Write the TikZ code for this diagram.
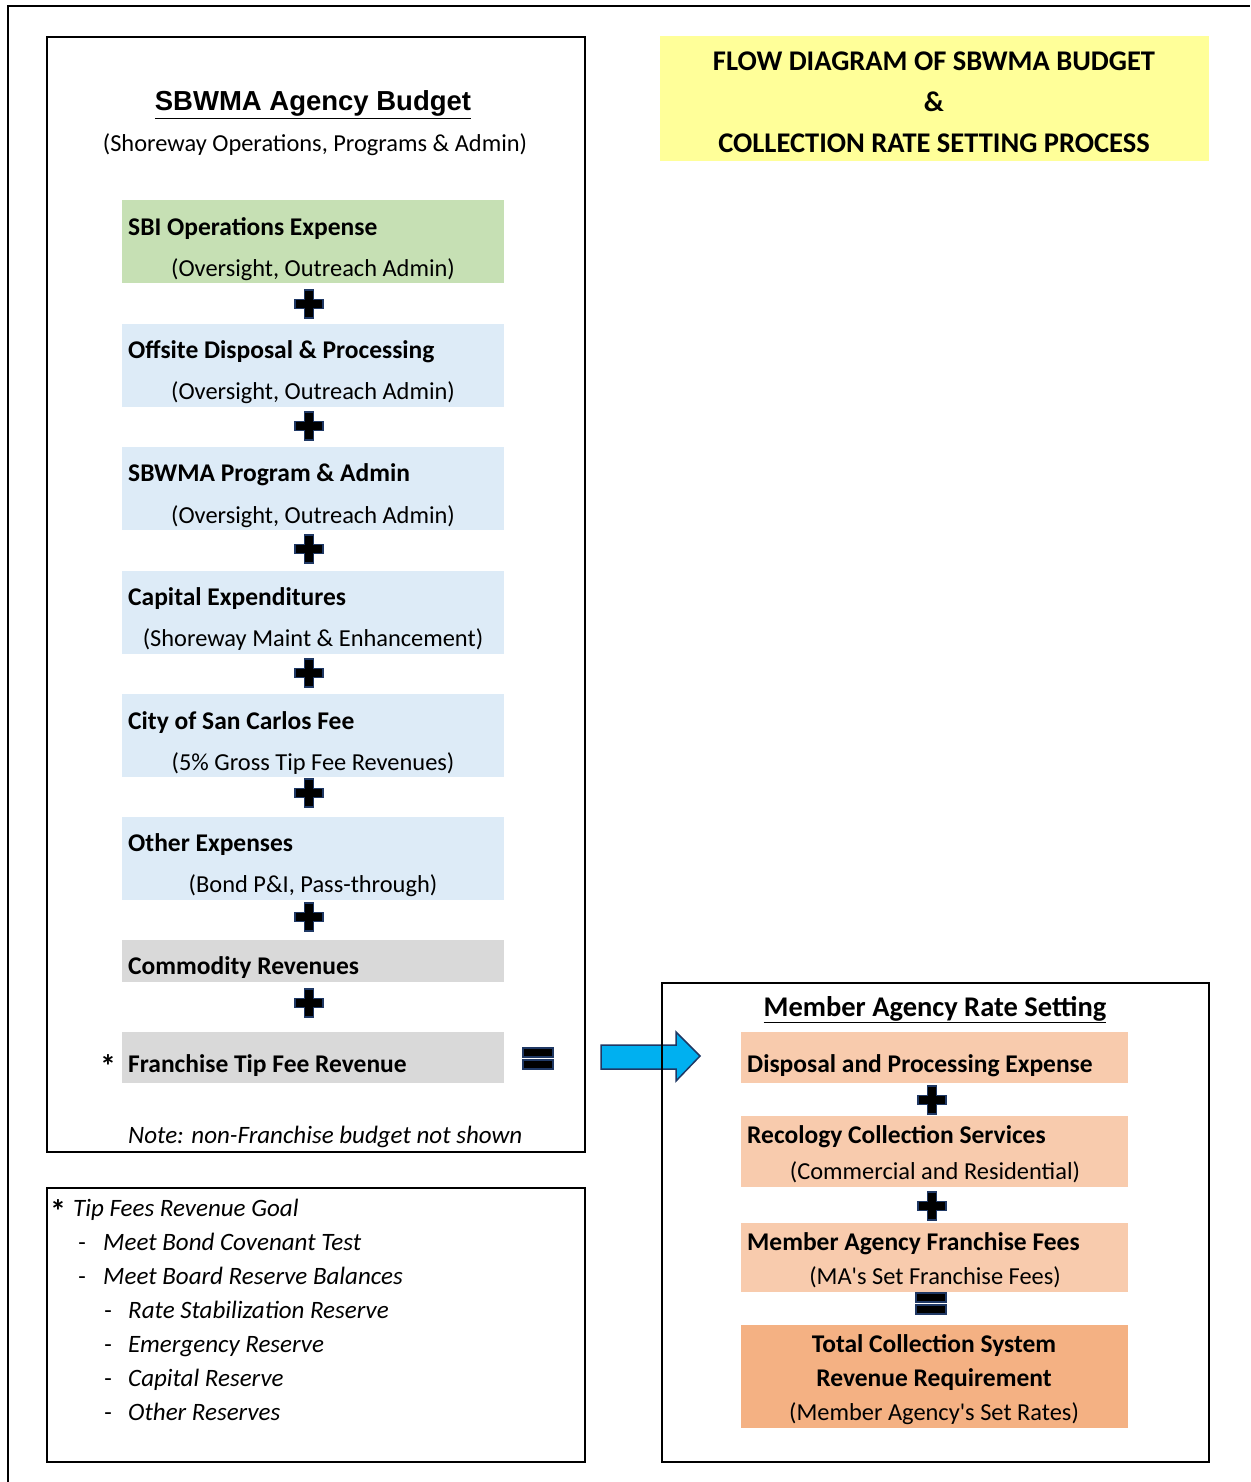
\documentclass[tikz,border=0pt]{standalone}
\usepackage{fontspec}
\setmainfont{Carlito}[Ligatures=TeXReset]
\newfontfamily\arialfont{Liberation Sans}
\definecolor{greenbox}{HTML}{C6E0B4}
\definecolor{bluebox}{HTML}{DDEBF7}
\definecolor{graybox}{HTML}{D9D9D9}
\definecolor{peach}{HTML}{F8CBAD}
\definecolor{peachdark}{HTML}{F4B183}
\definecolor{yellowbox}{HTML}{FFFF99}
\definecolor{navy}{HTML}{1F3864}
\definecolor{arrowblue}{HTML}{00B0F0}
\begin{document}
\begin{tikzpicture}[x=1pt,y=-1pt,
  frame/.style={draw=black, line width=2pt},
  txt/.style={inner sep=0pt, font=\fontsize{24.4}{28}\selectfont},
  btxt/.style={inner sep=0pt, font=\fontsize{25.5}{29}\selectfont\bfseries},
  bigbtxt/.style={inner sep=0pt, font=\fontsize{28.5}{32}\selectfont\bfseries},
  itxt/.style={inner sep=0pt, font=\fontsize{25}{29}\selectfont\itshape},
  startxt/.style={inner sep=0pt, font=\fontsize{32}{36}\selectfont\bfseries},
  box/.style={draw=none, inner sep=0pt, anchor=north west},
  plussign/.pic={\filldraw[fill=black, draw=navy, line width=1.5pt]
     (-4.5,-14) -- (4.5,-14) -- (4.5,-4.5) -- (14,-4.5) -- (14,4.5) -- (4.5,4.5)
     -- (4.5,14) -- (-4.5,14) -- (-4.5,4.5) -- (-14,4.5) -- (-14,-4.5) -- (-4.5,-4.5) -- cycle;},
  equalsign/.pic={\filldraw[fill=black, draw=navy, line width=1.5pt] (-15,-11) rectangle (15,-2);
     \filldraw[fill=black, draw=navy, line width=1.5pt] (-15,1) rectangle (15,10);}
]
\useasboundingbox (0,0) rectangle (1250,1482);
% outer frame
\draw[frame] (8,1482) -- (8,6) -- (1250,6);
% left budget frame
\node[box, frame, minimum width=538, minimum height=1115] (leftframe) at (46,36) {};
\node[anchor=base, inner sep=0pt, font=\arialfont\bfseries\fontsize{27.5}{32}\selectfont] (ltitle) at (313,111) {\underline{SBWMA Agency Budget}};
\node[txt, anchor=base] (lsub) at (315,152) {(Shoreway Operations, Programs \& Admin)};

% budget boxes
\node[box, fill=greenbox, minimum width=382, minimum height=83] (b1) at (122,200) {};
\node[box, fill=bluebox, minimum width=382, minimum height=83] (b2) at (122,324) {};
\node[box, fill=bluebox, minimum width=382, minimum height=83] (b3) at (122,447) {};
\node[box, fill=bluebox, minimum width=382, minimum height=83] (b4) at (122,571) {};
\node[box, fill=bluebox, minimum width=382, minimum height=83] (b5) at (122,694) {};
\node[box, fill=bluebox, minimum width=382, minimum height=83] (b6) at (122,817) {};
\node[box, fill=graybox, minimum width=382, minimum height=42] (b7) at (122,940) {};
\node[box, fill=graybox, minimum width=382, minimum height=51] (b8) at (122,1032) {};

\node[btxt, anchor=base west] (t1) at (128,235) {SBI Operations Expense};
\node[txt, anchor=base] (s1) at (313,276) {(Oversight, Outreach Admin)};
\node[btxt, anchor=base west] (t2) at (128,358) {Offsite Disposal \& Processing};
\node[txt, anchor=base] (s2) at (313,399) {(Oversight, Outreach Admin)};
\node[btxt, anchor=base west] (t3) at (128,481) {SBWMA Program \& Admin};
\node[txt, anchor=base] (s3) at (313,523) {(Oversight, Outreach Admin)};
\node[btxt, anchor=base west] (t4) at (128,605) {Capital Expenditures};
\node[txt, anchor=base] (s4) at (313,646) {(Shoreway Maint \& Enhancement)};
\node[btxt, anchor=base west] (t5) at (128,729) {City of San Carlos Fee};
\node[txt, anchor=base] (s5) at (313,770) {(5\% Gross Tip Fee Revenues)};
\node[btxt, anchor=base west] (t6) at (128,851) {Other Expenses};
\node[txt, anchor=base] (s6) at (313,892) {(Bond P\&I, Pass-through)};
\node[btxt, anchor=base west] (t7) at (128,974) {Commodity Revenues};
\node[btxt, anchor=base west] (t8) at (128,1072) {Franchise Tip Fee Revenue};
\node[startxt, anchor=base] (star1) at (108,1077) {*};

\pic at (309,304) {plussign};
\pic at (309,426) {plussign};
\pic at (309,549) {plussign};
\pic at (309,673) {plussign};
\pic at (309,793) {plussign};
\pic at (309,917) {plussign};
\pic at (309,1003) {plussign};
\pic at (538,1059) {equalsign};

\node[itxt, anchor=base west] (note) at (128,1143) {Note: non-Franchise budget not shown};

% big arrow
\filldraw[fill=arrowblue, draw=navy, line width=1.5pt]
  (601,1045) -- (676,1045) -- (676,1032) -- (700,1056) -- (676,1081) -- (676,1069) -- (601,1069) -- cycle;

% notes box
\node[box, frame, minimum width=538, minimum height=274] (notes) at (46,1187) {};
\node[startxt, anchor=base] (star2) at (58,1222) {*};
\node[itxt, anchor=base west] (n0) at (73,1216) {Tip Fees Revenue Goal};
\node[txt, anchor=base] (d1) at (82,1250) {-};
\node[itxt, anchor=base west] (n1) at (103,1250) {Meet Bond Covenant Test};
\node[txt, anchor=base] (d2) at (82,1284) {-};
\node[itxt, anchor=base west] (n2) at (103,1284) {Meet Board Reserve Balances};
\node[txt, anchor=base] (d3) at (108,1318) {-};
\node[itxt, anchor=base west] (n3) at (128,1318) {Rate Stabilization Reserve};
\node[txt, anchor=base] (d4) at (108,1352) {-};
\node[itxt, anchor=base west] (n4) at (128,1352) {Emergency Reserve};
\node[txt, anchor=base] (d5) at (108,1386) {-};
\node[itxt, anchor=base west] (n5) at (128,1386) {Capital Reserve};
\node[txt, anchor=base] (d6) at (108,1420) {-};
\node[itxt, anchor=base west] (n6) at (128,1420) {Other Reserves};

% yellow title
\node[box, fill=yellowbox, minimum width=549, minimum height=125] (ybox) at (660,36) {};
\node[bigbtxt, anchor=base] (y1) at (934,71) {FLOW DIAGRAM OF SBWMA BUDGET};
\node[bigbtxt, anchor=base] (y2) at (934,112) {\&};
\node[bigbtxt, anchor=base] (y3) at (934,153) {COLLECTION RATE SETTING PROCESS};

% right frame
\node[box, frame, minimum width=547, minimum height=479] (rightframe) at (661,982) {};
\node[bigbtxt, anchor=base] (rtitle) at (935,1016) {\underline{Member Agency Rate Setting}};
\node[box, fill=peach, minimum width=387, minimum height=51] (r1) at (741,1032) {};
\node[box, fill=peach, minimum width=387, minimum height=71] (r2) at (741,1116) {};
\node[box, fill=peach, minimum width=387, minimum height=69] (r3) at (741,1223) {};
\node[box, fill=peachdark, minimum width=387, minimum height=103] (r4) at (741,1325) {};
\node[btxt, anchor=base west] (rt1) at (747,1072) {Disposal and Processing Expense};
\node[btxt, anchor=base west] (rt2) at (747,1143) {Recology Collection Services};
\node[txt, anchor=base] (rs2) at (935,1179) {(Commercial and Residential)};
\node[btxt, anchor=base west] (rt3) at (747,1250) {Member Agency Franchise Fees};
\node[txt, anchor=base] (rs3) at (935,1284) {(MA's Set Franchise Fees)};
\node[btxt, anchor=base] (rt4a) at (934,1352) {Total Collection System};
\node[btxt, anchor=base] (rt4b) at (934,1386) {Revenue Requirement};
\node[txt, anchor=base] (rs4) at (934,1420) {(Member Agency's Set Rates)};
\pic at (932,1100) {plussign};
\pic at (932,1206) {plussign};
\pic at (931,1304) {equalsign};
\end{tikzpicture}
\end{document}
